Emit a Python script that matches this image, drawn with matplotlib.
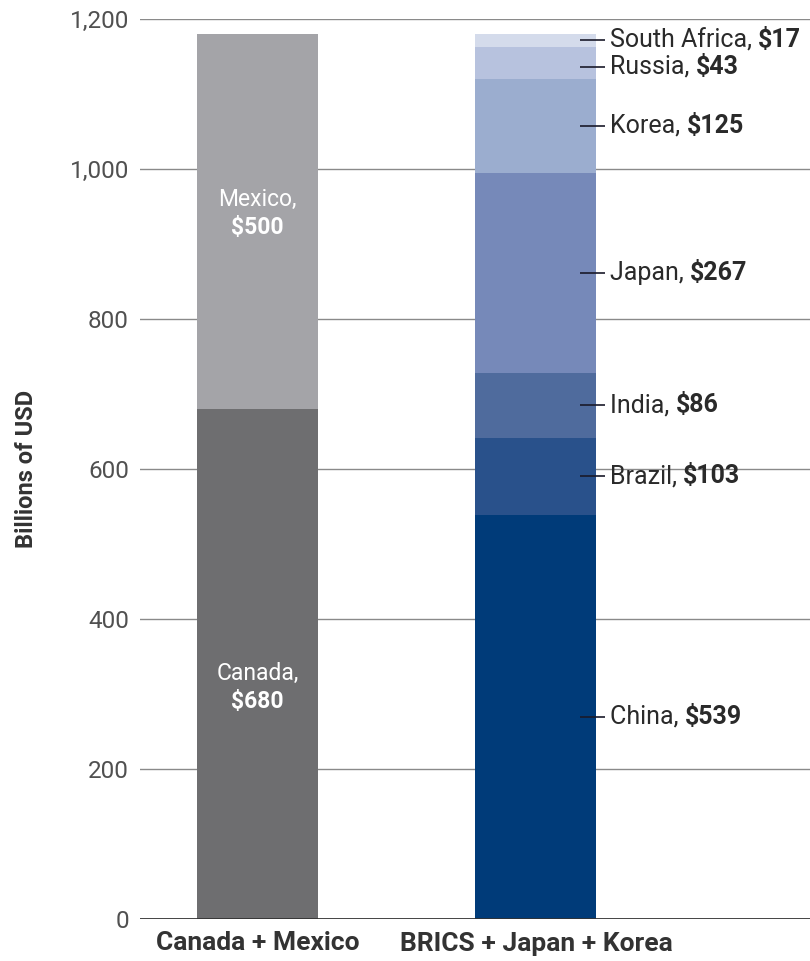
import matplotlib
matplotlib.use("Agg")
import matplotlib.pyplot as plt
import numpy as np

plt.rcParams['font.family'] = ['Roboto', 'DejaVu Sans']

# data (billions of USD)
groups = ['Canada + Mexico', 'BRICS + Japan + Korea']
left_names = ['Canada', 'Mexico']
left_vals = [680, 500]
right_names = ['China', 'Brazil', 'India', 'Japan', 'Korea', 'Russia', 'South Africa']
right_vals = [539, 103, 86, 267, 125, 43, 17]
yticks = [0, 200, 400, 600, 800, 1000, 1200]
ytick_labels = ['0', '200', '400', '600', '800', '1,000', '1,200']

left_colors = ['#6e6e70', '#a4a4a8']
right_colors = ['#003b79', '#29518b', '#4f6b9d', '#7689b9', '#9badcf', '#b7c2de', '#d4dbeb']
inner_shift = [-31, 11]  # nudge of the white labels inside the left bar

fig = plt.figure(figsize=(8.1, 9.61), dpi=100)
ax = fig.add_axes([140 / 810, 42 / 961, 670 / 810, 900 / 961])

width = 0.4345
x = np.arange(len(groups))

# left stacked bar, white labels inside
bottom = 0
for name, val, col, sh in zip(left_names, left_vals, left_colors, inner_shift):
    ax.bar(x[0], val, width, bottom=bottom, color=col, zorder=3)
    yc = bottom + val / 2 + sh
    ax.text(x[0], yc + 18.5, name + ',', ha='center', va='center',
            color='white', fontsize=16.5)
    ax.text(x[0], yc - 18.5, '$%d' % val, ha='center', va='center',
            color='white', fontsize=16.5, fontweight='bold')
    bottom += val

# right stacked bar with side labels
bottom = 0
for name, val, col in zip(right_names, right_vals, right_colors):
    ax.bar(x[1], val, width, bottom=bottom, color=col, zorder=3)
    ymid = bottom + val / 2
    if name == 'Russia':
        ymid -= 5
    ax.plot([x[1] + 0.158, x[1] + 0.248], [ymid, ymid], color='#1a1a2a', lw=1.2,
            zorder=4, solid_capstyle='butt')
    t = ax.text(x[1] + 0.266, ymid, name + ', ', ha='left', va='center',
                color='#2a2a2a', fontsize=18)
    ax.annotate('$%d' % val, xy=(1, 0.5), xycoords=t, ha='left', va='center',
                color='#2a2a2a', fontsize=18, fontweight='bold')
    bottom += val

ax.set_xlim(-0.422, 1.984)
ax.set_ylim(0, 1200)
ax.set_yticks(yticks)
ax.set_yticklabels(ytick_labels, fontsize=17.5, color='#505050')
ax.tick_params(axis='y', length=0, pad=8)
ax.set_xticks(x)
ax.set_xticklabels(groups, fontsize=19, fontweight='bold', color='#333333')
ax.tick_params(axis='x', length=0, pad=9)

for y in yticks[1:]:
    ax.axhline(y, color='#8a8a8a', lw=1.0, zorder=1)
ax.axhline(0, color='#333333', lw=2.0, zorder=5)

for s in ax.spines.values():
    s.set_visible(False)

ax.set_ylabel('Billions of USD', fontsize=17, fontweight='bold', color='#333333')
ax.yaxis.set_label_coords(-0.152, 0.5)

fig.savefig('out.png', dpi=100)
